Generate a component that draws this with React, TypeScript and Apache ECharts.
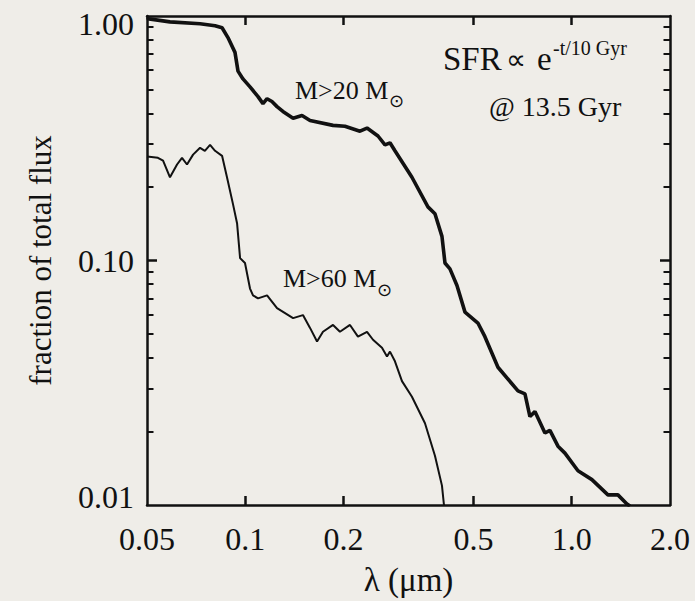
import React, { useEffect, useRef } from "react";
import * as echarts from "echarts";

// ---- tick values ----
const xTickLabels = [0.05, 0.1, 0.2, 0.5, 1.0, 2.0];
const xMajorTicks = [0.1, 0.2, 0.5, 1.0];
const yTickLabels = [0.01, 0.1, 1.0];
const yMajorTicks = [0.1];
const yMinorTicks = [
  0.02, 0.03, 0.04, 0.05, 0.06, 0.07, 0.08, 0.09,
  0.2, 0.3, 0.4, 0.5, 0.6, 0.7, 0.8, 0.9,
];

// ---- M > 20 Msun (thick curve) ----
const m20Wavelength = [
  0.050, 0.0507, 0.0588, 0.0727, 0.0808, 0.0849, 0.0885, 0.0930, 0.0950,
  0.0984, 0.1034, 0.1094, 0.1133, 0.1166, 0.1207, 0.1251, 0.1304, 0.1401,
  0.1492, 0.1579, 0.1857, 0.2020, 0.2246, 0.2360, 0.2550, 0.2679, 0.2775,
  0.2874, 0.3240, 0.3627, 0.3811, 0.4004, 0.4090, 0.4236, 0.4451, 0.4710,
  0.5160, 0.5421, 0.5943, 0.6844, 0.7190, 0.7447, 0.7715, 0.8278, 0.8575,
  0.9075, 0.9531, 1.045, 1.153, 1.291, 1.385, 1.476, 1.508,
];
const m20Fraction = [
  0.985, 0.973, 0.946, 0.929, 0.912, 0.895, 0.816, 0.710, 0.595,
  0.553, 0.513, 0.468, 0.438, 0.459, 0.447, 0.426, 0.407, 0.382,
  0.392, 0.374, 0.357, 0.354, 0.338, 0.348, 0.323, 0.297, 0.303,
  0.281, 0.219, 0.1657, 0.1553, 0.1255, 0.0977, 0.0924, 0.0790, 0.0615,
  0.0555, 0.0488, 0.0366, 0.0293, 0.0285, 0.0230, 0.0241, 0.0197, 0.0202,
  0.0174, 0.0163, 0.0138, 0.0127, 0.0110, 0.0110, 0.0101, 0.0099,
];

// ---- M > 60 Msun (thin curve) ----
const m60Wavelength = [
  0.050, 0.0540, 0.0560, 0.0588, 0.0618, 0.0640, 0.0663, 0.0692, 0.0727,
  0.0752, 0.0780, 0.0808, 0.0849, 0.0879, 0.0917, 0.0944, 0.0964, 0.0998,
  0.1034, 0.1056, 0.1094, 0.1166, 0.1251, 0.1401, 0.1502, 0.1579, 0.1659,
  0.1730, 0.1857, 0.1950, 0.2093, 0.2214, 0.2360, 0.2462, 0.2623, 0.2717,
  0.2775, 0.2874, 0.3020, 0.3240, 0.3552, 0.3811, 0.4004, 0.4061, 0.4090,
];
const m60Fraction = [
  0.266, 0.263, 0.256, 0.219, 0.247, 0.263, 0.247, 0.271, 0.289,
  0.281, 0.297, 0.281, 0.268, 0.219, 0.170, 0.1416, 0.1023, 0.0977,
  0.0768, 0.0720, 0.0700, 0.0720, 0.0638, 0.0581, 0.0598, 0.0530, 0.0466,
  0.0511, 0.0545, 0.0511, 0.0545, 0.0488, 0.0511, 0.0474, 0.0440, 0.0405,
  0.0424, 0.0387, 0.0321, 0.0277, 0.0216, 0.0159, 0.0120, 0.0100, 0.0096,
];

const FONT = "'Liberation Serif', 'Times New Roman', serif";
const INK = "#111";
const BG = "#efede8";

export default function App() {
  const ref = useRef<HTMLDivElement>(null);

  useEffect(() => {
    document.body.style.margin = "0";
    document.body.style.background = BG;
    if (!ref.current) return;
    const chart = echarts.init(ref.current, undefined, { renderer: "svg" });

    const zip = (xs: number[], ys: number[]) => xs.map((x, i) => [x, ys[i]]);

    const xBase = {
      type: "log" as const,
      logBase: 10,
      min: 0.05,
      max: 2.0,
      gridIndex: 0,
      splitLine: { show: false },
      axisLine: { show: true, lineStyle: { color: INK, width: 2.5 } },
    };
    const yBase = {
      type: "log" as const,
      logBase: 10,
      min: 0.01,
      max: 1.0,
      gridIndex: 0,
      splitLine: { show: false },
    };

    const xFmt = (v: number) => (v >= 1 ? v.toFixed(1) : String(+v.toPrecision(3)));
    const labelText = { fontFamily: FONT, fontSize: 32, color: INK };

    chart.setOption({
      animation: false,
      backgroundColor: BG,
      grid: { left: 147, right: 25, top: 16, bottom: 88, containLabel: false },
      xAxis: [
        {
          ...xBase,
          position: "bottom",
          name: "λ (μm)",
          nameLocation: "middle",
          nameGap: 58,
          nameTextStyle: { fontFamily: FONT, fontSize: 33, color: INK },
          axisTick: {
            show: true,
            inside: true,
            length: 9,
            customValues: xMajorTicks,
            lineStyle: { color: INK, width: 2.5 },
          },
          axisLabel: {
            show: true,
            margin: 18,
            customValues: xTickLabels,
            formatter: xFmt,
            ...labelText,
          },
        },
        {
          ...xBase,
          position: "top",
          axisTick: {
            show: true,
            inside: true,
            length: 9,
            customValues: xMajorTicks,
            lineStyle: { color: INK, width: 2.5 },
          },
          axisLabel: { show: false },
        },
      ],
      yAxis: [
        {
          ...yBase,
          position: "left",
          name: "fraction of total flux",
          nameLocation: "middle",
          nameGap: 91,
          nameTextStyle: { fontFamily: FONT, fontSize: 31, color: INK },
          axisLine: { show: true, lineStyle: { color: INK, width: 2.5 } },
          axisTick: {
            show: true,
            inside: true,
            length: 10,
            customValues: yMajorTicks,
            lineStyle: { color: INK, width: 2.5 },
          },
          axisLabel: {
            show: true,
            margin: 13,
            customValues: yTickLabels,
            formatter: (v: number) => {
              const s = v.toFixed(2);
              if (Math.abs(v - 1) < 1e-9) return `{top|${s}}`;
              if (Math.abs(v - 0.01) < 1e-9) return `{bot|${s}}`;
              return `{mid|${s}}`;
            },
            ...labelText,
            rich: {
              top: { ...labelText, padding: [16, 0, 0, 0] },
              bot: { ...labelText, padding: [0, 0, 17, 0] },
              mid: { ...labelText },
            },
          },
        },
        {
          ...yBase,
          position: "right",
          axisLine: { show: true, lineStyle: { color: INK, width: 2.5 } },
          axisTick: {
            show: true,
            inside: true,
            length: 10,
            customValues: yMajorTicks,
            lineStyle: { color: INK, width: 2.5 },
          },
          axisLabel: { show: false },
        },
        {
          ...yBase,
          position: "left",
          offset: 0,
          axisLine: { show: false },
          axisTick: {
            show: true,
            inside: true,
            length: 6.5,
            customValues: yMinorTicks,
            lineStyle: { color: INK, width: 2 },
          },
          axisLabel: { show: false },
        },
        {
          ...yBase,
          position: "right",
          offset: 0,
          axisLine: { show: false },
          axisTick: {
            show: true,
            inside: true,
            length: 6.5,
            customValues: yMinorTicks,
            lineStyle: { color: INK, width: 2 },
          },
          axisLabel: { show: false },
        },
      ],
      series: [
        {
          name: "M>20",
          type: "line",
          xAxisIndex: 0,
          yAxisIndex: 0,
          showSymbol: false,
          symbol: "none",
          data: zip(m20Wavelength, m20Fraction),
          lineStyle: { color: INK, width: 3.6 },
          clip: true,
        },
        {
          name: "M>60",
          type: "line",
          xAxisIndex: 0,
          yAxisIndex: 0,
          showSymbol: false,
          symbol: "none",
          data: zip(m60Wavelength, m60Fraction),
          lineStyle: { color: INK, width: 2 },
          clip: true,
        },
      ],
      graphic: [
        { type: "text", x: 295, y: 90.5, style: { text: "M>20 M", font: `26px ${FONT}`, fill: INK, verticalAlign: "middle" } },
        { type: "text", x: 389, y: 100, style: { text: "⊙", font: `18px 'DejaVu Sans', sans-serif`, fill: INK, verticalAlign: "middle" } },
        { type: "text", x: 283, y: 278.5, style: { text: "M>60 M", font: `26px ${FONT}`, fill: INK, verticalAlign: "middle" } },
        { type: "text", x: 377, y: 289, style: { text: "⊙", font: `18px 'DejaVu Sans', sans-serif`, fill: INK, verticalAlign: "middle" } },
        { type: "text", x: 443, y: 59, style: { text: "SFR", font: `33px ${FONT}`, fill: INK, verticalAlign: "middle" } },
        { type: "text", x: 506, y: 59, style: { text: "∝", font: `28px ${FONT}`, fill: INK, verticalAlign: "middle" } },
        { type: "text", x: 537, y: 59, style: { text: "e", font: `33px ${FONT}`, fill: INK, verticalAlign: "middle" } },
        { type: "text", x: 553, y: 48, style: { text: "-t/10 Gyr", font: `20px ${FONT}`, fill: INK, verticalAlign: "middle" } },
        { type: "text", x: 489, y: 106, style: { text: "@ 13.5 Gyr", font: `28px ${FONT}`, fill: INK, verticalAlign: "middle" } },
      ],
    });

    return () => chart.dispose();
  }, []);

  return (
    <div
      ref={ref}
      style={{ position: "absolute", left: 0, top: 0, width: 695, height: 601, background: BG }}
    />
  );
}
